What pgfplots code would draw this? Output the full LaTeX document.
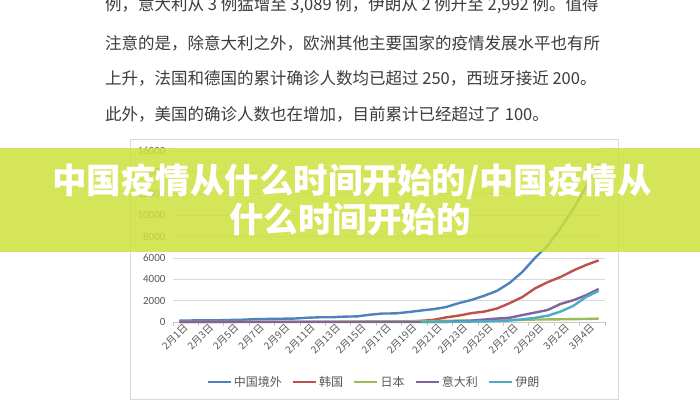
\documentclass[border=0pt]{standalone}
\usepackage{fontspec}
\setmainfont{Noto Sans CJK SC}
\newfontfamily\cjk{Noto Sans CJK SC}
\newfontfamily\carlito{Carlito}
\usepackage{pgfplots}
\pgfplotsset{compat=1.18}
\definecolor{cblue}{RGB}{79,129,189}
\definecolor{cred}{RGB}{192,80,77}
\definecolor{cgreen}{RGB}{155,187,89}
\definecolor{cpurple}{RGB}{128,100,162}
\definecolor{cteal}{RGB}{75,172,198}
\definecolor{doctext}{RGB}{60,60,60}
\definecolor{tickgray}{RGB}{89,89,89}
\definecolor{framegray}{RGB}{217,217,217}
\definecolor{banner}{RGB}{205,225,60}
\begin{document}
\begin{tikzpicture}[x=1pt,y=1pt]
\useasboundingbox (0,0) rectangle (700,400);
\fill[white] (0,0) rectangle (700,400);
\begin{scope}
\clip (0,0) rectangle (700,400);
\begin{scope}[every node/.style={anchor=west,inner sep=0pt,text=doctext,font=\cjk\fontsize{16.5}{16.5}\selectfont}]
\node at (105,395) {例，意大利从 3 例猛增至 3,089 例，伊朗从 2 例升至 2,992 例。值得};
\node at (105,357) {注意的是，除意大利之外，欧洲其他主要国家的疫情发展水平也有所};
\node at (105,322) {上升，法国和德国的累计确诊人数均已超过 250，西班牙接近 200。};
\node at (105,286) {此外，美国的确诊人数也在增加，目前累计已经超过了 100。};
\end{scope}
\draw[framegray, line width=0.8pt] (130,1) rectangle (618,261);
\begin{axis}[
  at={(173pt,78pt)}, anchor=south west,
  width=432pt, height=171pt, scale only axis,
  xmin=-0.5, xmax=33.5, ymin=0, ymax=16000,
  clip=false,
  axis x line*=bottom, axis y line*=left,
  y axis line style={draw=none},
  x axis line style={draw=framegray!80!gray, line width=0.8pt},
  ymajorgrids, grid style={framegray, line width=0.6pt},
  ytick={0,2000,...,16000},
  scaled y ticks=false,
  yticklabels={0,2000,4000,6000,8000,10000,12000,14000,16000},
  yticklabel style={font=\carlito\fontsize{11}{11}\selectfont, text=tickgray, anchor=east, xshift=-4pt},
  xtick={0,2,...,32},
  xticklabels={2月1日,2月3日,2月5日,2月7日,2月9日,2月11日,2月13日,2月15日,2月17日,2月19日,2月21日,2月23日,2月25日,2月27日,2月29日,3月2日,3月4日},
  xticklabel style={font=\cjk\fontsize{10}{10}\selectfont, text=tickgray, rotate=45, anchor=north east, inner sep=1pt, xshift=3pt, yshift=-2pt},
  major tick length=0pt,
  minor xtick={-0.5,1.5,...,33.5},
  minor tick length=4pt, tick align=outside,
  minor x tick style={framegray!80!gray, line width=0.8pt},
  legend columns=5,
  legend style={at={(0.465,-0.351)}, anchor=center, draw=none, fill=none,
    font=\cjk\fontsize{12}{12}\selectfont, text=tickgray,
    /tikz/every even column/.append style={column sep=8pt}},
  legend image code/.code={\draw[#1] (0pt,0pt) -- (23pt,0pt);},
  every axis plot/.append style={line width=2.4pt, line join=round},
]
\addplot[cblue] coordinates {(0,132)(1,146)(2,153)(3,159)(4,191)(5,216)(6,270)(7,288)(8,307)(9,319)(10,395)(11,441)(12,447)(13,505)(14,526)(15,683)(16,794)(17,804)(18,924)(19,1073)(20,1200)(21,1402)(22,1769)(23,2069)(24,2459)(25,2918)(26,3664)(27,4691)(28,6009)(29,7169)(30,8774)(31,10566)(32,12668)(33,14768)};
\addlegendentry{中国境外}
\addplot[cred] coordinates {(0,12)(1,15)(2,15)(3,16)(4,16)(5,23)(6,24)(7,24)(8,25)(9,27)(10,28)(11,28)(12,28)(13,28)(14,28)(15,29)(16,30)(17,31)(18,31)(19,104)(20,204)(21,433)(22,602)(23,833)(24,977)(25,1261)(26,1766)(27,2337)(28,3150)(29,3736)(30,4212)(31,4812)(32,5328)(33,5766)};
\addlegendentry{韩国}
\addplot[cgreen] coordinates {(0,17)(1,20)(2,20)(3,20)(4,22)(5,25)(6,25)(7,25)(8,26)(9,26)(10,26)(11,28)(12,28)(13,29)(14,41)(15,53)(16,59)(17,65)(18,73)(19,84)(20,93)(21,105)(22,132)(23,144)(24,157)(25,164)(26,186)(27,210)(28,230)(29,239)(30,254)(31,268)(32,284)(33,317)};
\addlegendentry{日本}
\addplot[cpurple] coordinates {(0,2)(1,2)(2,2)(3,2)(4,2)(5,2)(6,3)(7,3)(8,3)(9,3)(10,3)(11,3)(12,3)(13,3)(14,3)(15,3)(16,3)(17,3)(18,3)(19,3)(20,3)(21,9)(22,76)(23,124)(24,229)(25,322)(26,400)(27,650)(28,888)(29,1128)(30,1689)(31,2036)(32,2502)(33,3089)};
\addlegendentry{意大利}
\addplot[cteal] coordinates {(19,2)(20,5)(21,18)(22,28)(23,43)(24,61)(25,95)(26,141)(27,245)(28,388)(29,593)(30,978)(31,1501)(32,2336)(33,2922)};
\addlegendentry{伊朗}
\end{axis}
\fill[banner, opacity=0.85] (0,148) rectangle (700,252);
\node[text=white, font=\cjk\bfseries\fontsize{34.5}{34.5}\selectfont, inner sep=0pt] at (352,218) {中国疫情从什么时间开始的/中国疫情从};
\node[text=white, font=\cjk\bfseries\fontsize{34.5}{34.5}\selectfont, inner sep=0pt] at (350,181) {什么时间开始的};
\end{scope}
\end{tikzpicture}
\end{document}
